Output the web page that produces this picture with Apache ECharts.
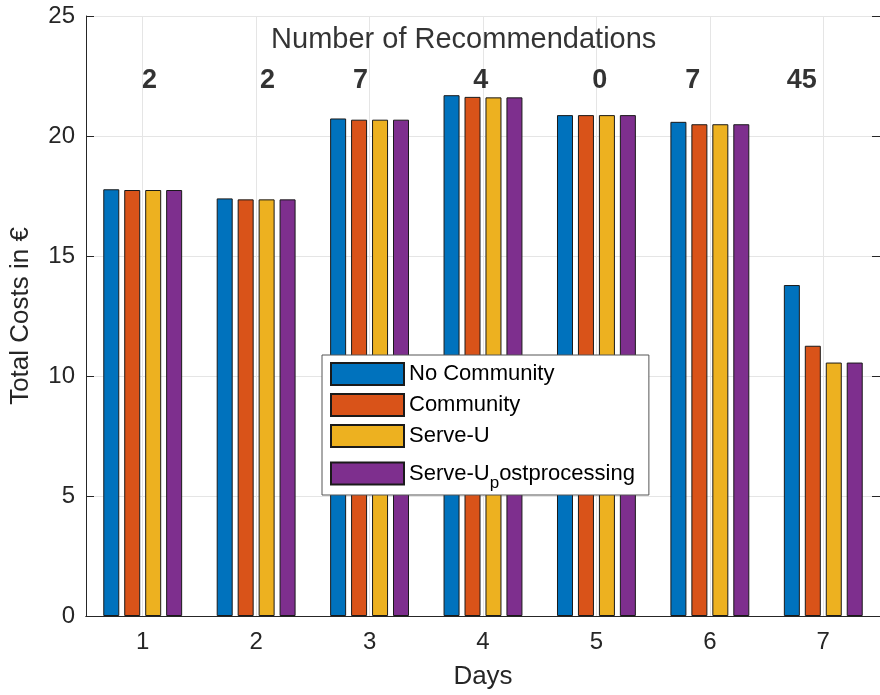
<!DOCTYPE html>
<html>
<head>
<meta charset="utf-8">
<script src="https://cdn.jsdelivr.net/npm/echarts@6/dist/echarts.min.js"></script>
<style>
  html, body { margin: 0; padding: 0; background: #fff; }
  #main { width: 880px; height: 695px; }
</style>
</head>
<body>
<div id="main"></div>
<script>
// data
const days = ['1', '2', '3', '4', '5', '6', '7'];
const noCommunity = [17.78, 17.40, 20.73, 21.70, 20.87, 20.59, 13.79];
const community = [17.75, 17.36, 20.68, 21.63, 20.87, 20.49, 11.26];
const serveU = [17.75, 17.36, 20.68, 21.61, 20.87, 20.49, 10.56];
const serveUPost = [17.75, 17.36, 20.68, 21.61, 20.87, 20.49, 10.56];
const recCounts = ['2', '2', '7', '4', '0', '7', '45'];
const recX = [1.06, 2.10, 2.92, 3.98, 5.03, 5.85, 6.81];
const recY = 22.3;
const recTitle = 'Number of Recommendations';
const recTitleX = 3.83;
const recTitleY = 24.0;

const axisColor = '#262626';
const gridColor = '#e5e5e5';
const font = 'Arial, "Liberation Sans", sans-serif';

let myChart = echarts.init(document.getElementById('main'));

function barSeries(name, data, color) {
  return {
    name: name,
    type: 'bar',
    xAxisIndex: 0,
    yAxisIndex: 0,
    data: data,
    barWidth: 16,
    barGap: '31%',
    itemStyle: { color: color, borderColor: '#1a1a1a', borderWidth: 1 }
  };
}

myChart.setOption({
  animation: false,
  backgroundColor: '#fff',
  textStyle: { fontFamily: font },
  grid: { left: 85, top: 16, width: 805, height: 603 },
  legend: {
    data: ['No Community', 'Community', 'Serve-U', 'Serve-U_postprocessing'],
    orient: 'vertical',
    icon: 'rect',
    left: 322,
    top: 355,
    padding: [7, 14, 3, 8],
    itemWidth: 73,
    itemHeight: 22,
    itemGap: 7,
    backgroundColor: '#fff',
    borderColor: '#555',
    borderWidth: 1,
    borderRadius: 0,
    formatter: function (name) {
      return name === 'Serve-U_postprocessing' ? 'Serve-U{sub|p}ostprocessing' : name;
    },
    textStyle: {
      fontSize: 22,
      color: '#000',
      rich: {
        sub: { fontSize: 17, lineHeight: 34, padding: [20, 0, 0, 0], color: '#000' }
      }
    }
  },
  xAxis: [
    {
      type: 'category',
      data: days,
      position: 'bottom',
      boundaryGap: true,
      name: 'Days',
      nameLocation: 'middle',
      nameGap: 48,
      nameTextStyle: { fontSize: 26, color: axisColor },
      axisLine: { lineStyle: { color: axisColor } },
      axisTick: { inside: true, alignWithLabel: true, length: 8, lineStyle: { color: axisColor } },
      axisLabel: { fontSize: 24, color: axisColor, margin: 14 },
      splitLine: { show: true, alignWithLabel: true, lineStyle: { color: gridColor } }
    },
    {
      type: 'category',
      data: days,
      position: 'top',
      min: 0,
      max: 6,
      boundaryGap: true,
      axisLine: { lineStyle: { color: axisColor } },
      axisTick: { inside: true, alignWithLabel: true, length: 8, lineStyle: { color: axisColor } },
      axisLabel: { show: false },
      splitLine: { show: false }
    },
    {
      type: 'value',
      min: 0.5,
      max: 7.5,
      show: false
    }
  ],
  yAxis: [
    {
      type: 'value',
      min: 0,
      max: 25,
      interval: 5,
      name: 'Total Costs in €',
      nameLocation: 'middle',
      nameGap: 52,
      nameTextStyle: { fontSize: 26, color: axisColor },
      axisLine: { show: true, lineStyle: { color: axisColor } },
      axisTick: { show: true, inside: true, length: 8, lineStyle: { color: axisColor } },
      axisLabel: { fontSize: 24, color: axisColor, margin: 11 },
      splitLine: { show: true, lineStyle: { color: gridColor } }
    },
    {
      type: 'value',
      min: 0,
      max: 25,
      interval: 5,
      position: 'right',
      axisLine: { show: true, lineStyle: { color: axisColor } },
      axisTick: { show: true, inside: true, length: 8, lineStyle: { color: axisColor } },
      axisLabel: { show: false },
      splitLine: { show: false }
    }
  ],
  series: [
    barSeries('No Community', noCommunity, '#0072BD'),
    barSeries('Community', community, '#D95319'),
    barSeries('Serve-U', serveU, '#EDB120'),
    barSeries('Serve-U_postprocessing', serveUPost, '#7E2F8E'),
    {
      name: 'recommendations',
      type: 'scatter',
      xAxisIndex: 2,
      yAxisIndex: 0,
      symbolSize: 0,
      data: recX.map(function (x, i) { return [x, recY, recCounts[i]]; }),
      label: {
        show: true,
        position: 'inside',
        formatter: function (p) { return p.value[2]; },
        fontSize: 27,
        fontWeight: 'bold',
        color: '#000'
      }
    },
    {
      name: 'recTitle',
      type: 'scatter',
      xAxisIndex: 2,
      yAxisIndex: 0,
      symbolSize: 0,
      data: [[recTitleX, recTitleY]],
      label: {
        show: true,
        position: 'inside',
        formatter: recTitle,
        fontSize: 29,
        color: '#000'
      }
    }
  ]
});
</script>
</body>
</html>
